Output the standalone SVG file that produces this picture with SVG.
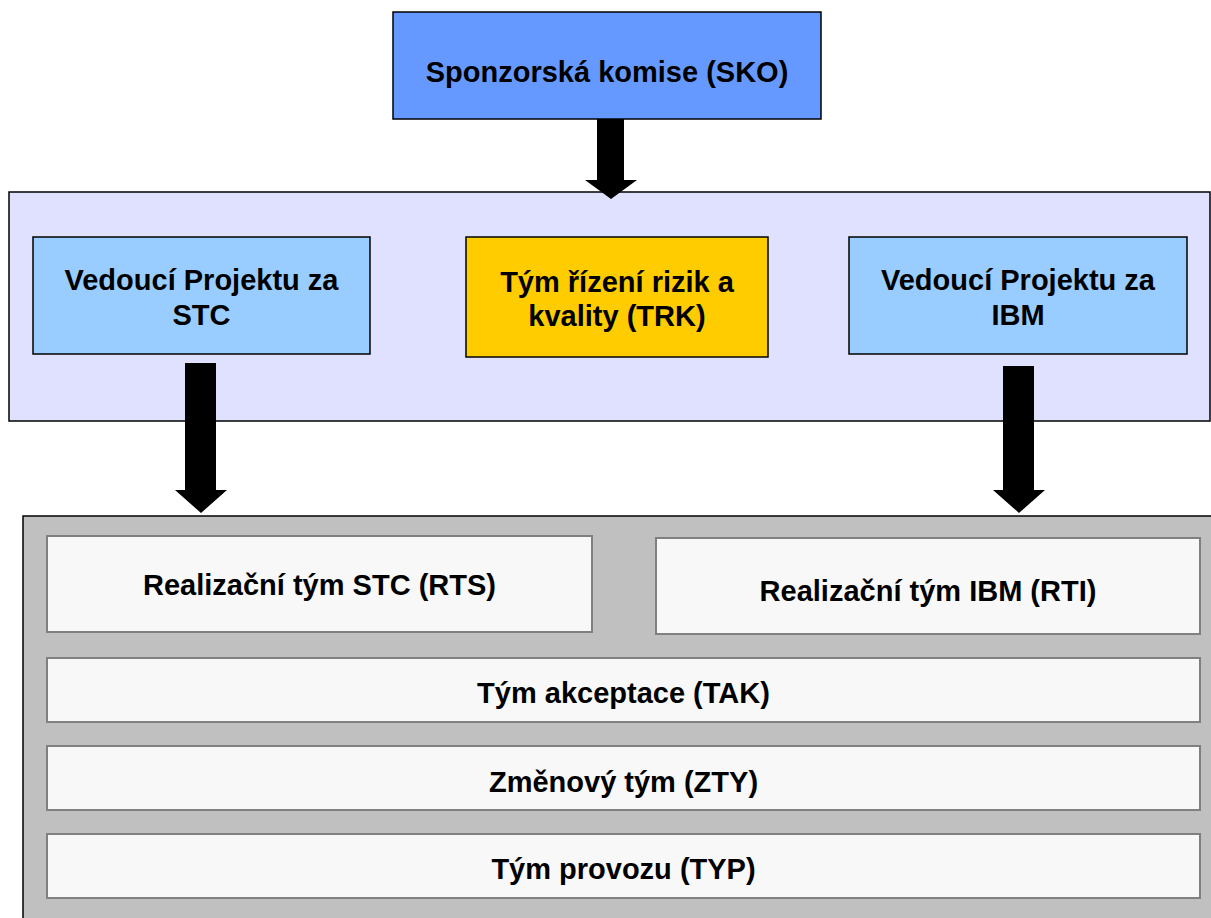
<svg xmlns="http://www.w3.org/2000/svg" width="1211" height="918" viewBox="0 0 1211 918">
<style>
text{font-family:"Liberation Sans",Arial,sans-serif;font-weight:bold;font-size:29px;fill:#000;text-anchor:middle}
.box{stroke:#000;stroke-width:1.5}
.inner{fill:#F8F8F8;stroke:#808080;stroke-width:2}
.arrow{fill:#000}
</style>
<rect width="1211" height="918" fill="#fff"/>
<g id="containers">
<rect id="mid-container" x="9" y="192" width="1201" height="229" fill="#E0E0FF" class="box"/>
<rect id="bottom-container" x="23" y="516" width="1200" height="420" fill="#C0C0C0" class="box"/>
</g>
<g id="SKO">
<rect x="393" y="12" width="428" height="107" fill="#6699FF" class="box"/>
<text x="607" y="82">Sponzorská komise (SKO)</text>
</g>
<g id="VP-STC">
<rect x="33" y="237" width="337" height="117" fill="#99CCFF" class="box"/>
<text x="201.5" y="290">Vedoucí Projektu za</text>
<text x="201.5" y="325">STC</text>
</g>
<g id="TRK">
<rect x="466" y="237" width="302" height="120" fill="#FFCC00" class="box"/>
<text x="617" y="292">Tým řízení rizik a</text>
<text x="617" y="326">kvality (TRK)</text>
</g>
<g id="VP-IBM">
<rect x="849" y="237" width="338" height="117" fill="#99CCFF" class="box"/>
<text x="1018" y="290">Vedoucí Projektu za</text>
<text x="1018" y="325">IBM</text>
</g>
<g id="RTS">
<rect x="47" y="536" width="545" height="96" class="inner"/>
<text x="319.5" y="595">Realizační tým STC (RTS)</text>
</g>
<g id="RTI">
<rect x="656" y="538" width="544" height="96" class="inner"/>
<text x="928" y="601">Realizační tým IBM (RTI)</text>
</g>
<g id="TAK">
<rect x="47" y="658" width="1153" height="64" class="inner"/>
<text x="623.5" y="703">Tým akceptace (TAK)</text>
</g>
<g id="ZTY">
<rect x="47" y="746" width="1153" height="64" class="inner"/>
<text x="623.5" y="792">Změnový tým (ZTY)</text>
</g>
<g id="TYP">
<rect x="47" y="834" width="1153" height="64" class="inner"/>
<text x="623.5" y="879">Tým provozu (TYP)</text>
</g>
<g id="connectors">
<polygon class="arrow" points="597,119 624,119 624,180 637,180 611,199 585,180 597,180"/>
<polygon class="arrow" points="185,363 216,363 216,490 227,490 201,513 175,490 185,490"/>
<polygon class="arrow" points="1003,366 1034,366 1034,490 1045,490 1019,513 993,490 1003,490"/>
</g>
</svg>
